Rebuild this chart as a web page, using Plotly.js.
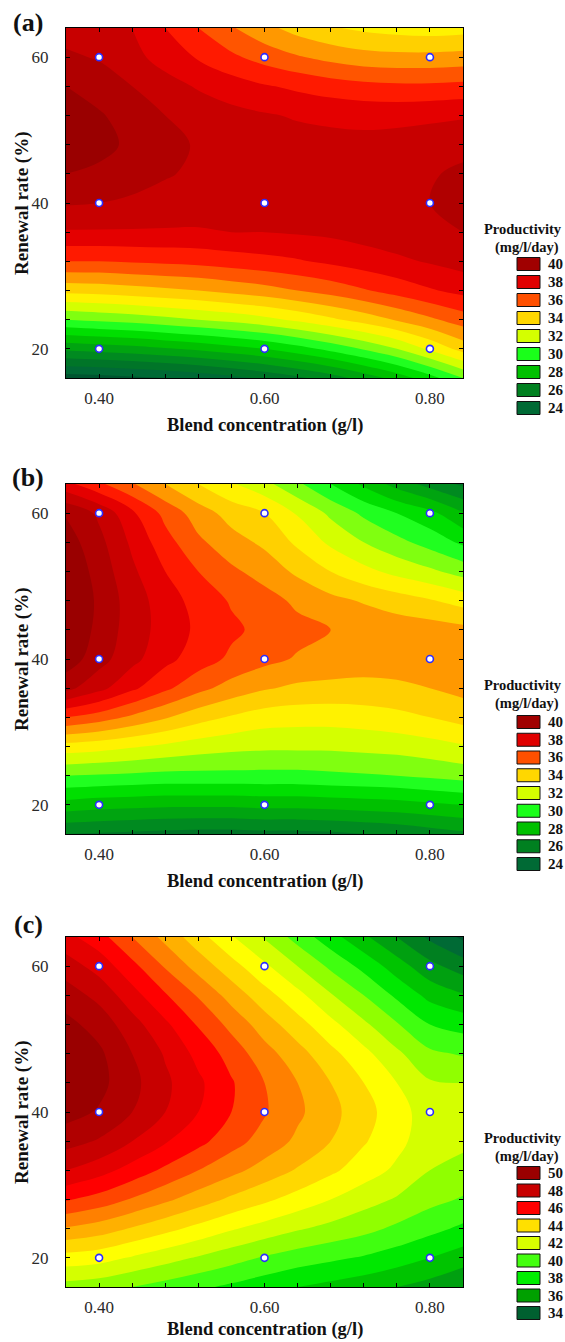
<!DOCTYPE html>
<html><head><meta charset="utf-8">
<script src="https://cdn.plot.ly/plotly-3.0.1.min.js"></script>
<style>html,body{margin:0;padding:0;background:#fff}</style>
</head><body><div id="chart" style="width:565px;height:1342px"></div>
<script>
// ---------- data ----------
const blendConc = [0.36,0.40,0.44,0.48,0.52,0.56,0.60,0.64,0.68,0.72,0.76,0.80,0.84];
const renewalRate = [16,20,24,28,32,36,40,44,48,52,56,60,64];

// rows follow renewalRate, columns follow blendConc
const productivityA = [
 [23.5,23.6,23.8,24.0,24.3,24.7,25.2,25.8,26.5,27.4,28.4,29.6,31.0],
 [27.2,27.4,27.6,27.9,28.2,28.6,29.0,29.6,30.3,31.1,32.0,33.2,34.4],
 [31.0,31.2,31.4,31.7,32.0,32.3,32.7,33.2,33.8,34.4,35.1,35.8,36.5],
 [34.3,34.4,34.6,34.8,35.0,35.3,35.6,36.0,36.4,36.9,37.4,37.9,38.3],
 [37.0,37.0,37.1,37.2,37.3,37.5,37.7,37.9,38.2,38.5,38.8,39.1,39.4],
 [38.9,38.9,38.9,38.9,38.9,39.0,39.0,39.1,39.2,39.4,39.6,39.8,40.0],
 [40.1,40.0,39.8,39.6,39.5,39.4,39.4,39.4,39.5,39.6,39.8,40.0,40.3],
 [41.0,40.8,40.5,40.1,39.8,39.6,39.5,39.5,39.5,39.6,39.7,39.9,40.2],
 [41.6,41.3,40.8,40.3,39.9,39.6,39.5,39.4,39.3,39.3,39.4,39.5,39.7],
 [41.5,41.1,40.6,40.0,39.6,39.3,39.1,38.9,38.8,38.7,38.7,38.8,38.9],
 [41.0,40.6,40.0,39.4,38.9,38.5,38.1,37.8,37.5,37.3,37.2,37.2,37.3],
 [40.2,39.9,39.3,38.6,37.9,37.2,36.6,36.1,35.7,35.4,35.3,35.3,35.4],
 [39.5,39.3,39.0,38.0,37.0,36.1,35.3,34.6,34.1,33.8,33.6,33.5,33.6]
];
const productivityB = [
 [26.0,25.9,25.8,25.7,25.6,25.6,25.7,25.7,25.8,26.0,26.2,26.5,26.8],
 [28.6,28.4,28.3,28.2,28.2,28.2,28.3,28.3,28.4,28.5,28.6,28.8,29.0],
 [31.0,30.9,30.8,30.7,30.7,30.7,30.7,30.7,30.8,30.9,31.0,31.2,31.4],
 [33.6,33.4,33.1,32.8,32.5,32.3,32.2,32.2,32.2,32.3,32.4,32.6,32.9],
 [37.0,36.5,35.8,35.1,34.4,33.9,33.5,33.4,33.4,33.5,33.7,34.0,34.4],
 [40.3,39.3,38.2,37.2,36.3,35.6,35.1,34.8,34.7,34.7,34.8,35.0,35.3],
 [41.6,40.4,39.3,38.3,37.5,36.8,36.3,35.9,35.7,35.5,35.5,35.5,35.6],
 [42.0,40.7,39.5,38.6,37.8,37.2,36.7,36.3,36.0,35.8,35.6,35.5,35.3],
 [42.1,40.8,39.5,38.5,37.6,36.9,36.4,35.8,35.3,34.9,34.5,34.1,33.6],
 [41.9,40.6,39.2,38.0,37.0,36.2,35.6,34.8,34.0,33.3,32.7,32.2,31.6],
 [41.5,40.3,38.8,37.4,36.2,35.4,34.8,33.8,32.8,32.0,31.3,30.6,29.8],
 [40.9,39.8,38.2,36.7,35.5,34.6,34.0,32.9,31.8,30.8,30.0,29.3,28.1],
 [38.3,37.2,36.1,35.0,34.0,33.1,32.3,31.2,30.0,28.8,27.6,26.6,25.8]
];
const productivityC = [
 [40.6,40.4,40.0,39.6,39.2,38.8,38.4,38.0,37.7,37.4,37.0,36.6,36.0],
 [42.6,42.4,41.9,41.4,40.9,40.4,39.9,39.5,39.2,38.9,38.5,38.0,37.5],
 [44.9,44.5,43.9,43.3,42.7,42.1,41.6,41.1,40.7,40.3,39.8,39.3,38.8],
 [47.1,46.6,45.9,45.2,44.5,43.8,43.2,42.6,42.0,41.4,40.9,40.3,39.9],
 [49.0,48.4,47.6,46.8,46.0,45.3,44.6,43.9,43.2,42.5,41.8,41.0,40.7],
 [50.4,49.9,49.0,48.1,47.3,46.4,45.6,44.8,44.0,43.1,42.3,41.4,41.2],
 [51.4,50.9,50.0,49.0,48.0,47.0,46.1,45.2,44.3,43.4,42.4,41.5,41.4],
 [51.9,51.3,50.3,49.2,48.2,47.1,46.0,45.0,44.0,43.0,42.0,41.1,41.0],
 [51.8,51.2,50.0,48.9,47.7,46.6,45.4,44.4,43.3,42.3,41.2,40.2,39.9],
 [51.3,50.6,49.4,48.2,46.9,45.7,44.5,43.4,42.3,41.2,40.1,39.0,38.6],
 [50.5,49.7,48.4,47.1,45.9,44.6,43.4,42.3,41.1,40.0,38.8,37.7,37.1],
 [49.5,48.6,47.3,45.9,44.6,43.4,42.2,41.0,39.8,38.7,37.5,36.3,35.5],
 [48.3,47.4,46.0,44.7,43.4,42.1,40.9,39.6,38.4,37.2,36.0,34.8,33.8]
];

// design points (experimental runs)
const designBlend = [0.40,0.60,0.80,0.40,0.60,0.80,0.40,0.60,0.80];
const designRate  = [20,20,20,40,40,40,60,60,60];

// tick labels
const xTickVals = [0.40,0.44,0.48,0.52,0.56,0.60,0.64,0.68,0.72,0.76,0.80];
const xTickText = ['0.40','','','','','0.60','','','','','0.80'];
const yTickVals = [20,24,28,32,36,40,44,48,52,56,60];
const yTickText = ['20','','','','','40','','','','','60'];

// legend labels
const legendLabelsAB = ['40','38','36','34','32','30','28','26','24'];
const legendLabelsC  = ['50','48','46','44','42','40','38','36','34'];

// ---------- styles ----------
const bandColorsAB = ['#005530','#006a35','#007528','#008a20','#00a410','#00c000','#00df00','#20ff20','#80ff10','#d4ff00','#fff200','#ffd000','#ff9800','#ff5500','#ff1a00','#e40000','#c80000','#b00000','#9a0000'];
const bandColorsC  = ['#005530','#006a35','#008020','#00a010','#00c400','#00e800','#40ff10','#90ff00','#d4ff00','#ffff00','#ffd800','#ffb000','#ff8000','#ff4500','#ff0000','#e40000','#c80000','#b00000','#9a0000'];
const legendColorsAB = ['#a00000','#e00000','#ff5000','#ffd700','#d4ff00','#1aff1a','#00c000','#008020','#006a35'];
const legendColorsC  = ['#9a0000','#c80000','#ff0000','#ffe000','#d8ff00','#44ff10','#00ee00','#00a000','#006030'];

const W = 565, H = 1342;
const px = v => v / W;
const py = v => 1 - v / H;
const serif = 'Liberation Serif, Times New Roman, serif';

const panels = [
  {z: productivityA, start: 24, end: 41, colors: bandColorsAB, top: 28, bottom: 378, label: '(a)', labelY: 22, xTitleY: 425,
   legTitle: 229, legFirst: 264, legStep: 18, legLabels: legendLabelsAB, legColors: legendColorsAB},
  {z: productivityB, start: 24, end: 41, colors: bandColorsAB, top: 484, bottom: 834, label: '(b)', labelY: 478, xTitleY: 881,
   legTitle: 685, legFirst: 722, legStep: 17.75, legLabels: legendLabelsAB, legColors: legendColorsAB},
  {z: productivityC, start: 34, end: 51, colors: bandColorsC, top: 937, bottom: 1287, label: '(c)', labelY: 924, xTitleY: 1329,
   legTitle: 1138, legFirst: 1173, legStep: 17.5, legLabels: legendLabelsC, legColors: legendColorsC}
];
const LEFT = 66, RIGHT = 463;

const traces = [];
const layout = {
  width: W, height: H,
  margin: {l: 0, r: 0, t: 0, b: 0},
  paper_bgcolor: '#fff', plot_bgcolor: '#fff',
  showlegend: false,
  annotations: [], shapes: []
};

panels.forEach((p, i) => {
  const n = i === 0 ? '' : String(i + 1);
  const N = p.colors.length;
  const scale = p.colors.map((c, k) => [k / (N - 1), c]);
  traces.push({
    type: 'contour', x: blendConc, y: renewalRate, z: p.z,
    xaxis: 'x' + n, yaxis: 'y' + n,
    autocontour: false,
    contours: {start: p.start, end: p.end, size: 1, coloring: 'fill', showlines: false},
    line: {smoothing: 1, width: 0},
    colorscale: scale, showscale: false, hoverinfo: 'skip'
  });
  traces.push({
    type: 'scatter', mode: 'markers', x: designBlend, y: designRate,
    xaxis: 'x' + n, yaxis: 'y' + n,
    marker: {size: 7, color: '#ffffff', line: {color: '#2b2bff', width: 1.6}},
    hoverinfo: 'skip'
  });
  const common = {
    ticks: 'inside', ticklen: 4, tickwidth: 1, tickcolor: '#000',
    showline: true, linecolor: '#000', linewidth: 1.2, mirror: 'ticks',
    showgrid: false, zeroline: false, fixedrange: true,
    tickfont: {family: serif, size: 17, color: '#2a2a2a'}
  };
  layout['xaxis' + n] = Object.assign({}, common, {
    domain: [px(LEFT), px(RIGHT)], range: [0.36, 0.84], anchor: 'y' + n,
    tickmode: 'array', tickvals: xTickVals, ticktext: xTickText, ticklabelstandoff: 4
  });
  layout['yaxis' + n] = Object.assign({}, common, {
    domain: [py(p.bottom), py(p.top)], range: [16, 64], anchor: 'x' + n,
    tickmode: 'array', tickvals: yTickVals, ticktext: yTickText, ticklabelstandoff: 13
  });
  // panel label
  layout.annotations.push({xref: 'paper', yref: 'paper', x: px(28), y: py(p.labelY), xanchor: 'center', yanchor: 'middle',
    text: '<b>' + p.label + '</b>', showarrow: false, font: {family: serif, size: 26, color: '#111'}});
  // axis titles
  layout.annotations.push({xref: 'paper', yref: 'paper', x: px((LEFT + RIGHT) / 2), y: py(p.xTitleY), xanchor: 'center', yanchor: 'middle',
    text: '<b>Blend concentration (g/l)</b>', showarrow: false, font: {family: serif, size: 18.5, color: '#111'}});
  layout.annotations.push({xref: 'paper', yref: 'paper', x: px(22), y: py((p.top + p.bottom) / 2), xanchor: 'center', yanchor: 'middle',
    text: '<b>Renewal rate (%)</b>', textangle: -90, showarrow: false, font: {family: serif, size: 19, color: '#111'}});
  // legend
  layout.annotations.push({xref: 'paper', yref: 'paper', x: px(564), y: py(p.legTitle), xanchor: 'right', yanchor: 'middle',
    text: '<b>Productivity</b>', showarrow: false, font: {family: serif, size: 14.5, color: '#111'}});
  layout.annotations.push({xref: 'paper', yref: 'paper', x: px(561), y: py(p.legTitle + 18.5), xanchor: 'right', yanchor: 'middle',
    text: '<b>(mg/l/day)</b>', showarrow: false, font: {family: serif, size: 14.5, color: '#111'}});
  p.legLabels.forEach((lab, k) => {
    const cy = p.legFirst + k * p.legStep;
    layout.shapes.push({type: 'rect', xref: 'paper', yref: 'paper', x0: px(517), x1: px(540), y0: py(cy + 6.5), y1: py(cy - 6.5),
      fillcolor: p.legColors[k], line: {color: '#111', width: 1}});
    layout.annotations.push({xref: 'paper', yref: 'paper', x: px(546), y: py(cy), xanchor: 'left', yanchor: 'middle',
      text: '<b>' + lab + '</b>', showarrow: false, font: {family: serif, size: 15, color: '#111'}});
  });
});

Plotly.newPlot('chart', traces, layout, {staticPlot: true, displayModeBar: false});
</script></body></html>
